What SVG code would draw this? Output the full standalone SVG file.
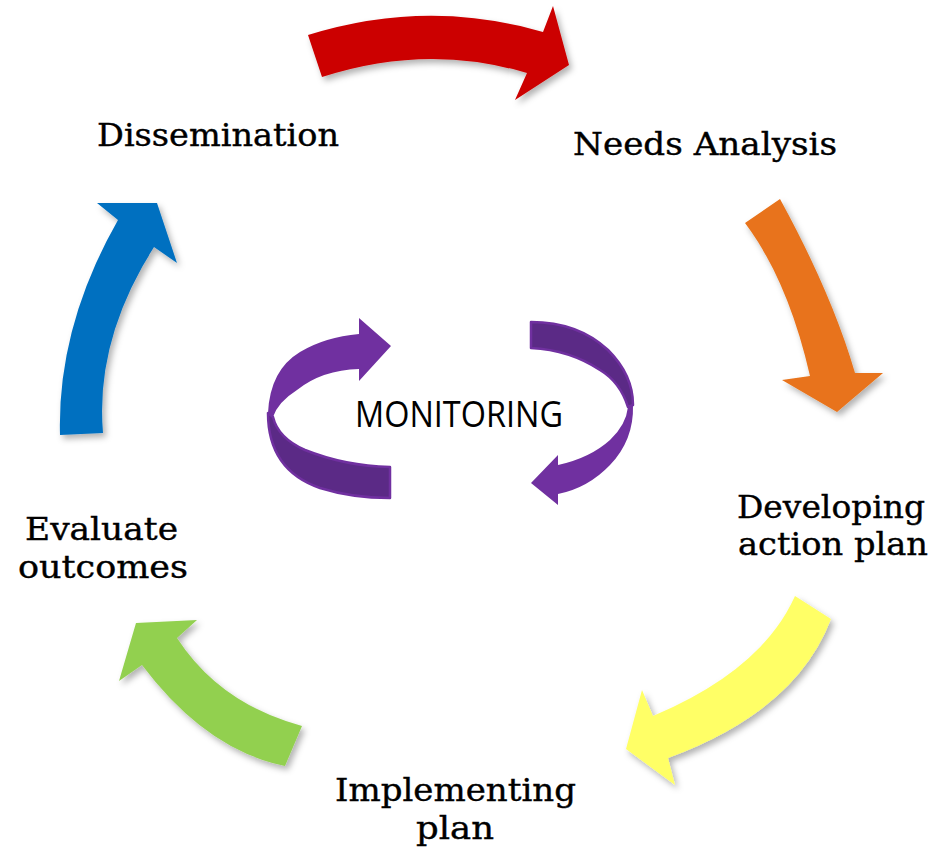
<svg xmlns="http://www.w3.org/2000/svg" width="938" height="851" viewBox="0 0 938 851">
  <defs>
    <filter id="sh" x="-20%" y="-20%" width="140%" height="140%">
      <feDropShadow dx="3" dy="4" stdDeviation="3" flood-color="#000" flood-opacity="0.3"/>
    </filter>
    <style>
      .lbl { font-family: "DejaVu Serif", "Liberation Serif", serif; font-size: 32px; fill: #000; stroke: #000; stroke-width: 0.4; }
      .mon { font-family: "Open Sans", "Lato", "Liberation Sans", sans-serif; font-size: 37px; fill: #000; }
      .pl { fill: #7030A0; }
      .pd { fill: #5B2A86; stroke: #7030A0; stroke-width: 2.5; stroke-linejoin: round; }
    </style>
  </defs>
  <rect width="938" height="851" fill="#fff"/>

  <g id="connectors">
    <path id="arrow-red" filter="url(#sh)" fill="#CC0000" d="M308,35 Q427,-2 543,32 L553,6 L569,65 L515,100 L527,73 Q427,43 322,77 Z"/>
    <path id="arrow-orange" filter="url(#sh)" fill="#E8731A" d="M745,223 L780,199 Q832,294 855,373 L883,373 L837,412 L782,380 L810,376 Q788,280 745,223 Z"/>
    <path id="arrow-yellow" filter="url(#sh)" fill="#FFFF66" d="M795,596 L831,619 Q796,711 668,758 L675,785 L626,749 L642,690 L653,716 Q762,670 795,596 Z"/>
    <path id="arrow-green" filter="url(#sh)" fill="#92D050" d="M302,726 L285,766 Q206,750 142,665 L119,681 L136,623 L197,620 L177,638 Q220,704 302,726 Z"/>
    <path id="arrow-blue" filter="url(#sh)" fill="#0070C0" d="M60,435 L103,433 Q95,340 154,247 L177,263 L157,203 L97,203 L118,220 Q57,327 60,435 Z"/>
  </g>

  <g id="monitoring">
    <g id="monitor-left">
      <path class="pd" d="M268,413 Q268,470 320,488 Q352,498 390,498 L390,467 Q345,466 305,450 Q278,438 273,417 Z"/>
      <path class="pl" d="M268,413 Q270,370 300,352 Q325,337 359,334 L359,318 L391,346 L359,381 L359,369 Q322,370 297,390 Q278,402 273,417 Z"/>
    </g>
    <g id="monitor-right">
      <path class="pd" d="M531,322 Q578,322 608,350 Q633,375 633,405 L628,407 Q620,382 600,370 Q570,350 531,348 Z"/>
      <path class="pl" d="M633,405 Q634,440 610,465 Q588,488 558,494 L558,505 L531,483 L558,455 L558,465 Q590,458 610,440 Q626,425 628,407 Z"/>
    </g>
    <text class="mon" x="355" y="427" textLength="208" lengthAdjust="spacingAndGlyphs">MONITORING</text>
  </g>

  <g id="node-dissemination">
    <text class="lbl" x="97" y="146" textLength="242" lengthAdjust="spacingAndGlyphs">Dissemination</text>
  </g>
  <g id="node-needs">
    <text class="lbl" x="573" y="155" textLength="264" lengthAdjust="spacingAndGlyphs">Needs Analysis</text>
  </g>
  <g id="node-developing">
    <text class="lbl" x="737" y="518" textLength="188" lengthAdjust="spacingAndGlyphs">Developing</text>
    <text class="lbl" x="738" y="555" textLength="190" lengthAdjust="spacingAndGlyphs">action plan</text>
  </g>
  <g id="node-implementing">
    <text class="lbl" x="335" y="801" textLength="241" lengthAdjust="spacingAndGlyphs">Implementing</text>
    <text class="lbl" x="416" y="839" textLength="78" lengthAdjust="spacingAndGlyphs">plan</text>
  </g>
  <g id="node-evaluate">
    <text class="lbl" x="25" y="540" textLength="153" lengthAdjust="spacingAndGlyphs">Evaluate</text>
    <text class="lbl" x="18" y="578" textLength="170" lengthAdjust="spacingAndGlyphs">outcomes</text>
  </g>
</svg>
